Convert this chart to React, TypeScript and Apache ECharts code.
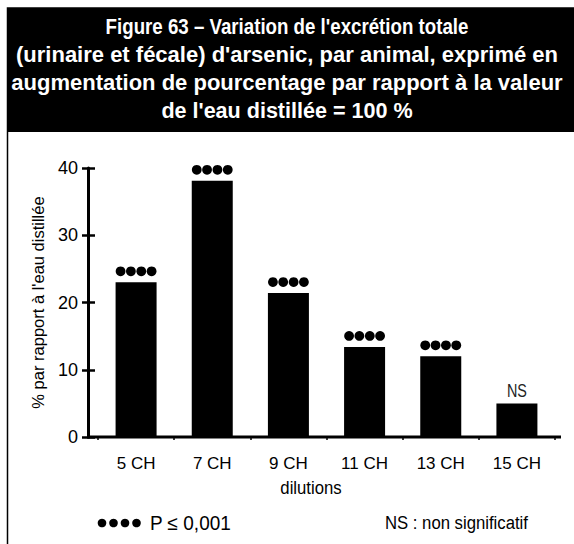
import React, { useEffect, useRef } from "react";
import * as echarts from "echarts";

const titleLines = [
  "Figure 63 – Variation de l'excrétion totale",
  "(urinaire et fécale) d'arsenic, par animal, exprimé en",
  "augmentation de pourcentage par rapport à la valeur",
  "de l'eau distillée = 100 %",
];
const categories = ["5 CH", "7 CH", "9 CH", "11 CH", "13 CH", "15 CH"];
const values = [23, 38.1, 21.4, 13.4, 12, 5];
const significance = ["••••", "••••", "••••", "••••", "••••", "NS"];
const yTicks = { min: 0, max: 40, interval: 10 };
const yAxisName = "% par rapport à l'eau distillée";
const xAxisName = "dilutions";
const legendSig = "P ≤ 0,001";
const legendNS = "NS : non significatif";

const FONT = "'Liberation Sans', Arial, sans-serif";

export default function App() {
  const ref = useRef<HTMLDivElement>(null);
  useEffect(() => {
    if (!ref.current) return;
    const chart = echarts.init(ref.current, null, { renderer: "svg" });
    const legendDots = [102, 113.5, 125, 136.5].map((cx) => ({
      type: "circle",
      shape: { cx, cy: 523, r: 4.3 },
      style: { fill: "#000" },
    }));
    const titleScale = [0.85, 1.0, 1.0, 0.98];
    const titleTexts = titleLines.map((line, i) => ({
      type: "text",
      x: 287,
      y: 26 + i * 28,
      scaleX: titleScale[i],
      style: {
        text: line,
        fill: "#fff",
        font: "bold 22px " + FONT,
        align: "center",
        verticalAlign: "middle",
      },
    }));
    chart.setOption({
      animation: false,
      backgroundColor: "#fff",
      graphic: [
        {
          type: "rect",
          shape: { x: 7.5, y: 8, width: 580, height: 600 },
          style: { fill: "#fff", stroke: "#000", lineWidth: 1.5 },
          z: -10,
        },
        {
          type: "rect",
          shape: { x: 7.5, y: 8, width: 580, height: 124 },
          style: { fill: "#000" },
          z: -9,
        },
        ...titleTexts,
        {
          type: "line",
          shape: { x1: 87, y1: 437, x2: 561, y2: 437 },
          style: { stroke: "#000", lineWidth: 3 },
          z: 10,
        },
        {
          type: "text",
          x: 311,
          y: 488,
          scaleX: 0.88,
          style: {
            text: xAxisName,
            fill: "#000",
            font: "19px " + FONT,
            align: "center",
            verticalAlign: "middle",
          },
        },
        ...legendDots,
        {
          type: "text",
          x: 150,
          y: 523,
          scaleX: 0.95,
          style: {
            text: legendSig,
            fill: "#000",
            font: "20px " + FONT,
            align: "left",
            verticalAlign: "middle",
          },
        },
        {
          type: "text",
          x: 385,
          y: 523,
          scaleX: 0.88,
          style: {
            text: legendNS,
            fill: "#000",
            font: "19px " + FONT,
            align: "left",
            verticalAlign: "middle",
          },
        },
      ],
      grid: { left: 98, right: 19, top: 168, bottom: 107, containLabel: false },
      xAxis: {
        type: "category",
        data: categories,
        axisLine: { show: false },
        axisTick: { show: true, length: 3, lineStyle: { color: "#000", width: 1.5 } },
        axisLabel: {
          color: "#000",
          fontFamily: FONT,
          fontSize: 17,
          margin: 18,
        },
      },
      yAxis: [
        {
          type: "value",
          min: yTicks.min,
          max: yTicks.max,
          interval: yTicks.interval,
          offset: 10,
          name: yAxisName,
          nameLocation: "middle",
          nameGap: 42,
          nameTextStyle: { color: "#000", fontFamily: FONT, fontSize: 16.5 },
          axisLine: { show: true, lineStyle: { color: "#000", width: 3 } },
          axisTick: { show: true, length: 6, lineStyle: { color: "#000", width: 2.5 } },
          axisLabel: { color: "#000", fontFamily: FONT, fontSize: 18, margin: 10 },
          splitLine: { show: false },
        },
        {
          type: "value",
          min: yTicks.min,
          max: yTicks.max,
          interval: yTicks.interval,
          offset: 10,
          position: "left",
          axisLine: { show: false },
          axisTick: { show: true, inside: true, length: 7, lineStyle: { color: "#000", width: 2.5 } },
          axisLabel: { show: false },
          splitLine: { show: false },
        },
      ],
      series: [
        {
          type: "bar",
          data: values,
          barWidth: 41,
          itemStyle: { color: "#000" },
          yAxisIndex: 0,
        },
        {
          type: "custom",
          yAxisIndex: 0,
          data: values.map((v, i) => [i, v]),
          renderItem: (params: any, api: any) => {
            const i = params.dataIndex;
            const pt = api.coord([api.value(0), api.value(1)]);
            if (significance[i] === "NS") {
              return {
                type: "text",
                x: pt[0],
                y: pt[1] - 13,
                scaleX: 0.8,
                style: {
                  text: "NS",
                  x: 0,
                  y: 0,
                  align: "center",
                  verticalAlign: "middle",
                  font: "18px " + FONT,
                  fill: "#222",
                },
              };
            }
            return {
              type: "group",
              children: [-15.5, -5.2, 5.2, 15.5].map((dx) => ({
                type: "circle",
                shape: { cx: pt[0] + dx, cy: pt[1] - 11, r: 4.9 },
                style: { fill: "#000" },
              })),
            };
          },
        },
      ],
    });
    return () => chart.dispose();
  }, []);
  return (
    <div
      ref={ref}
      style={{ position: "fixed", left: 0, top: 0, width: 574, height: 544 }}
    />
  );
}
